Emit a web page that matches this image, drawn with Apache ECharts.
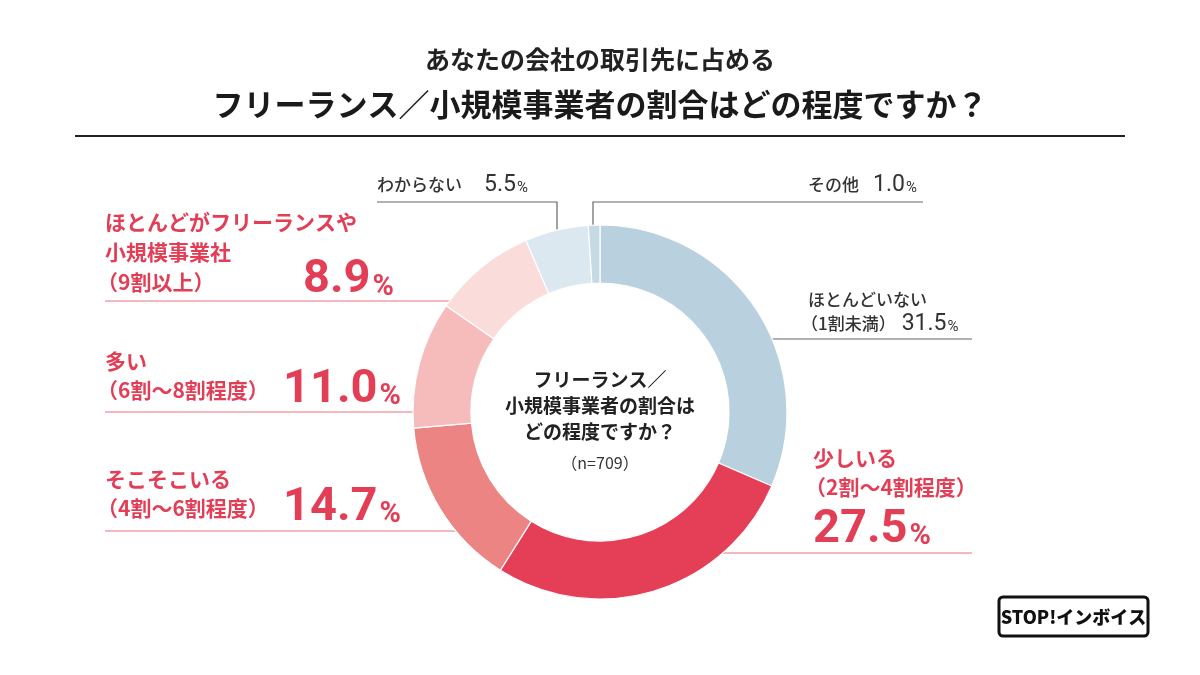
<!DOCTYPE html>
<html>
<head>
<meta charset="utf-8">
<script src="https://cdn.jsdelivr.net/npm/echarts@6/dist/echarts.min.js"></script>
<style>
html,body{margin:0;padding:0;background:#fff;}
#chart{width:1200px;height:675px;}
</style>
</head>
<body>
<div id="chart"></div>
<script>
// ---- data ----
const categories = ['ほとんどいない', '少しいる', 'そこそこいる', '多い', 'ほとんどがフリーランスや\n小規模事業社', 'わからない', 'その他'];
const subLabels = ['1割未満', '2割〜4割程度', '4割〜6割程度', '6割〜8割程度', '9割以上', '', ''];
const values = [31.5, 27.5, 14.7, 11.0, 8.9, 5.5, 1.0];
const sampleSize = 709;
const titleLines = ['あなたの会社の取引先に占める', 'フリーランス／小規模事業者の割合はどの程度ですか？'];
const centerLines = ['フリーランス／', '小規模事業者の割合は', 'どの程度ですか？'];

// ---- styles / layout ----
const RED = '#e23f57';
const GRAY = '#333333';
const sliceColors = ['#b9d1de', '#e43f57', '#ec8484', '#f5bcbb', '#fadcda', '#dce8ef', '#c6dae5'];
const lineColors = ['#666666', '#e8707f', '#e8707f', '#e8707f', '#e8707f', '#666666', '#666666'];
const labelLayouts = [
  { x: 808, y: 288, line: [[762, 339], [972, 339]] },
  { x: 813, y: 443.5, line: [[708, 553], [972, 553]] },
  { x: 105, y: 465, line: [[465, 531], [105, 531]] },
  { x: 105, y: 347, line: [[422, 412], [105, 412]] },
  { x: 105, y: 207, line: [[455, 301], [105, 301]] },
  { x: 377, y: 173, line: [[557, 232], [557, 202], [377, 202]] },
  { x: 808, y: 173, line: [[593, 228], [593, 202], [923, 202]] }
];
const numOffset = { 2: 178, 3: 178, 4: 198 };   // x offset of the big number from label left

const JP = '"Noto Sans CJK JP", "Noto Sans", sans-serif';
const NUM = 'Roboto, "Noto Sans", sans-serif';
const RFS = 21;
const ctx = document.createElement('canvas').getContext('2d');
function measure(text, font) { ctx.font = font; return ctx.measureText(text).width; }
const redFont = 'bold ' + RFS + 'px ' + JP;
const parenL = RFS - 8;

const fmt = v => v.toFixed(1);
const par = (txt, s, closeStyle) => `{${s}L|（}{${s}|${txt}}{${closeStyle}|）}`;
const formatters = [
  `{g|${categories[0]}}\n${par(subLabels[0], 'g', 'gR')}{gv0|${fmt(values[0])}}{gp|%}`,
  `{r|${categories[1]}}\n${par(subLabels[1], 'r', 'rR')}\n{rv1|${fmt(values[1])}}{rp1|%}`,
  `{r|${categories[2]}}\n${par(subLabels[2], 'r', 'rR2')}{rv|${fmt(values[2])}}{rp|%}`,
  `{r|${categories[3]}}\n${par(subLabels[3], 'r', 'rR3')}{rv|${fmt(values[3])}}{rp|%}`,
  `{r4|${categories[4]}}\n${par(subLabels[4], 'r4', 'rR4')}{rv4|${fmt(values[4])}}{rp|%}`,
  `{g|${categories[5]}}{gv5|${fmt(values[5])}}{gp|%}`,
  `{g|${categories[6]}}{gv6|${fmt(values[6])}}{gp|%}`
];

const gBase = { fontFamily: JP, fontSize: 17, color: GRAY, lineHeight: 24, fontWeight: 500 };
const rBase = { fontFamily: JP, fontSize: RFS, fontWeight: 'bold', color: RED, lineHeight: 29 };
const r4Base = Object.assign({}, rBase, { lineHeight: 30 });
const closeW = i => Math.max(14, numOffset[i] - parenL - measure(subLabels[i], redFont));
const rich = {
  g: gBase,
  gL: Object.assign({}, gBase, { padding: [0, 0, 0, -7] }),
  gR: Object.assign({}, gBase, { padding: [0, -6, 0, 0] }),
  gv0: { fontFamily: NUM, fontSize: 23, color: GRAY, lineHeight: 24, padding: [0, 0, 0, 12] },
  gv5: { fontFamily: NUM, fontSize: 23, color: GRAY, lineHeight: 24, padding: [0, 0, 0, 22] },
  gv6: { fontFamily: NUM, fontSize: 23, color: GRAY, lineHeight: 24, padding: [0, 0, 0, 14] },
  gp: { fontFamily: NUM, fontSize: 15, color: GRAY, lineHeight: 24, padding: [6, 0, 0, 1] },
  r: rBase,
  rL: Object.assign({}, rBase, { padding: [0, 0, 0, -8] }),
  rR: Object.assign({}, rBase, { padding: [0, -7, 0, 0] }),
  rR2: Object.assign({}, rBase, { width: closeW(2) }),
  rR3: Object.assign({}, rBase, { width: closeW(3) }),
  r4: r4Base,
  r4L: Object.assign({}, r4Base, { padding: [0, 0, 0, -8] }),
  rR4: Object.assign({}, r4Base, { width: closeW(4) }),
  rv: { fontFamily: NUM, fontSize: 47, fontWeight: 'bold', color: RED, lineHeight: 29 },
  rv1: { fontFamily: NUM, fontSize: 47, fontWeight: 'bold', color: RED, lineHeight: 50, padding: [8, 0, 0, 0] },
  rv4: { fontFamily: NUM, fontSize: 47, fontWeight: 'bold', color: RED, lineHeight: 30, padding: [0, 0, 4, 0] },
  rp: { fontFamily: NUM, fontSize: 29, fontWeight: 'bold', color: RED, lineHeight: 29, padding: [12, 0, 0, 2] },
  rp1: { fontFamily: NUM, fontSize: 29, fontWeight: 'bold', color: RED, lineHeight: 29, padding: [20, 0, 0, 2] }
};

const pieData = categories.map((name, i) => ({
  name: name,
  value: values[i],
  itemStyle: { color: sliceColors[i] },
  label: { formatter: formatters[i] },
  labelLine: { lineStyle: { color: lineColors[i], width: 1.2 } }
}));

const chart = echarts.init(document.getElementById('chart'), null, { renderer: 'canvas' });
chart.setOption({
  backgroundColor: '#ffffff',
  animation: false,
  title: [
    { text: titleLines[0], left: 'center', top: 42, textStyle: { fontFamily: JP, fontSize: 25, fontWeight: 'bold', color: '#222' } },
    { text: titleLines[1], left: 'center', top: 84, textStyle: { fontFamily: JP, fontSize: 31, fontWeight: 'bold', color: '#1a1a1a' } }
  ],
  graphic: [
    { type: 'line', shape: { x1: 75, y1: 136, x2: 1125, y2: 136 }, style: { stroke: '#222', lineWidth: 2 } },
    { type: 'text', x: 600, y: 406, style: { text: centerLines.join('\n'), fontFamily: JP, fontSize: 19, fontWeight: 'bold', fill: '#222', align: 'center', verticalAlign: 'middle', lineHeight: 26 } },
    { type: 'text', x: 600, y: 463, style: { text: '（n=' + sampleSize + '）', fontFamily: JP, fontSize: 16, fill: '#333', align: 'center', verticalAlign: 'middle' } },
    { type: 'rect', shape: { x: 999, y: 597, width: 149, height: 39, r: 4 }, style: { fill: '#fff', stroke: '#111', lineWidth: 3 } },
    { type: 'text', x: 1073.5, y: 617, style: { text: 'STOP!インボイス', fontFamily: JP, fontSize: 18, fontWeight: 900, fill: '#111', align: 'center', verticalAlign: 'middle' } }
  ],
  series: [{
    type: 'pie',
    center: [600, 412],
    radius: [129, 187],
    startAngle: 90,
    clockwise: true,
    avoidLabelOverlap: false,
    itemStyle: { borderColor: '#ffffff', borderWidth: 1.2 },
    label: { show: true, position: 'outside', rich: rich, overflow: 'none' },
    labelLine: { show: true, length: 10, length2: 10, smooth: false },
    emphasis: { disabled: true },
    labelLayout: function (params) {
      const L = labelLayouts[params.dataIndex];
      return { x: L.x, y: L.y, align: 'left', verticalAlign: 'top', width: 420, labelLinePoints: L.line };
    },
    data: pieData
  }]
});
</script>
</body>
</html>
